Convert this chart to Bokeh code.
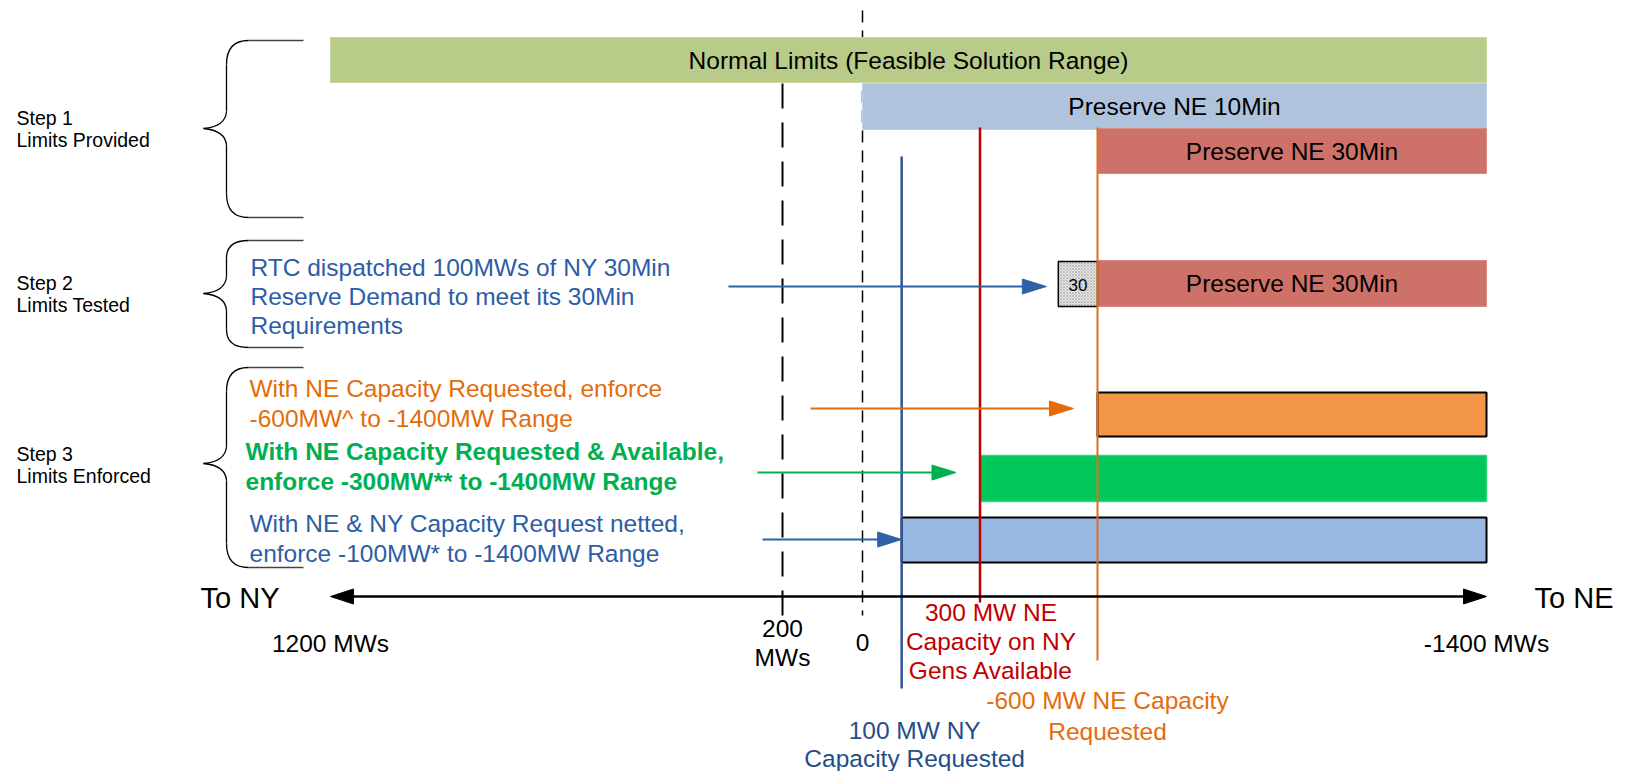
import numpy as np
from bokeh.plotting import figure
from bokeh.models import Range1d, ColumnDataSource
from bokeh.core.properties import value
from bokeh.embed import file_html
from bokeh.resources import INLINE

# ------------------------------------------------------------------ data
# schematic MW axis (the diagram is not drawn to scale)
axis_knots_mw = [1200, 200, 0, -600, -1400]
tick_values_mw = [1200, 200, 0, -1400]
tick_labels = ["1200 MWs", "200\nMWs", "0", "-1400 MWs"]
axis_end_labels = ["To NY", "To NE"]

step_names = ["Step 1", "Step 2", "Step 3"]
step_descs = ["Limits Provided", "Limits Tested", "Limits Enforced"]

range_labels = ["Normal Limits (Feasible Solution Range)", "Preserve NE 10Min",
                "Preserve NE 30Min", "Preserve NE 30Min", "", "", ""]
range_from_mw = [1200, 0, -600, -600, -600, -300, -100]
range_to_mw = [-1400, -1400, -1400, -1400, -1400, -1400, -1400]

ny30_label = "30"
ny30_from_mw = -500
ny30_to_mw = -600

marker_mw = [-100, -300, -600]
marker_texts = ["100 MW NY\nCapacity Requested",
                "300 MW NE\nCapacity on NY\nGens Available",
                "-600 MW NE Capacity\nRequested"]

step2_note = "RTC dispatched 100MWs of NY 30Min\nReserve Demand to meet its 30Min\nRequirements"
step3_notes = ["With NE Capacity Requested, enforce\n-600MW^ to -1400MW Range",
               "With NE Capacity Requested & Available,\nenforce -300MW** to -1400MW Range",
               "With NE & NY Capacity Request netted,\nenforce -100MW* to -1400MW Range"]
step3_targets_mw = [-600, -300, -100]

# ------------------------------------------------------------------ layout / style
W, H = 1630, 771
FONT = "Liberation Sans"
knot_px = [330, 782, 862, 1097, 1486]


def sx(mw):
    mw = np.asarray(mw, dtype=float)
    return np.interp(-mw, -np.array(axis_knots_mw, dtype=float), np.array(knot_px, dtype=float))


p = figure(width=W, height=H, x_range=Range1d(0, W), y_range=Range1d(H, 0),
           x_axis_type=None, y_axis_type=None, output_backend="svg",
           toolbar_location=None, min_border=0, outline_line_color=None,
           background_fill_color="white", border_fill_color="white")
p.grid.visible = False


def txt(xs, ys, texts, color, size, align="left", bold=False, baseline="middle"):
    src = ColumnDataSource(dict(x=list(xs), y=list(ys), t=list(texts)))
    p.text("x", "y", text="t", source=src, text_color=color, text_font=value(FONT),
           text_font_size=value(size), text_align=align, text_baseline=baseline,
           text_font_style="bold" if bold else "normal")


def multiline(x, y0, text, dy, color, size, align="left", bold=False):
    lines = text.split("\n")
    txt([x] * len(lines), [y0 + i * dy for i in range(len(lines))], lines, color, size, align, bold)


def arrow(x0, x1, y, color, lw=2, head_len=24, head_w=15):
    p.segment(x0=[x0], y0=[y], x1=[x1 - head_len * 0.6], y1=[y], line_color=color, line_width=lw)
    p.patch([x1, x1 - head_len, x1 - head_len], [y, y - head_w / 2, y + head_w / 2],
            fill_color=color, line_color=color, line_width=1)


# dashed reference lines (behind bars)
p.segment(x0=sx([200]), y0=[83], x1=sx([200]), y1=[615], line_color="black",
          line_width=2, line_dash="25 14")
p.segment(x0=sx([0]), y0=[10], x1=sx([0]), y1=[615], line_color="black",
          line_width=1.5, line_dash="12 8")

# range bars
row_top = [37, 83, 128, 260, 392, 455, 517]
row_bot = [82, 129, 173, 306, 436, 501, 562]
fills = ["#B8CB89", "#B0C3DD", "#CE7169", "#CE7169", "#F39647", "#00C85A", "#98B9E2"]
edges = ["#C8D8A0", "#C0D0E6", "#D88A84", "#D88A84", "black", "#35D27F", "black"]
edge_w = [1, 1, 1, 1, 2, 1.5, 2]
bars = ColumnDataSource(dict(left=sx(range_from_mw), right=sx(range_to_mw),
                             top=row_top, bottom=row_bot, fill=fills, edge=edges, lw=edge_w))
p.quad(left="left", right="right", top="top", bottom="bottom", source=bars,
       fill_color="fill", line_color="edge", line_width="lw")

# NY 30 min box (step 2)
p.quad(left=sx([ny30_from_mw]), right=sx([ny30_to_mw]), top=[261], bottom=[306],
       fill_color="#E6E6E6", line_color="black", line_width=1.5,
       hatch_pattern="diagonal_cross", hatch_color="#9A9A9A", hatch_scale=3, hatch_weight=0.5)
txt([float(sx(ny30_from_mw) + sx(ny30_to_mw)) / 2], [284], [ny30_label], "black", "17px", "center")

# bar labels
lab_idx = [i for i, s in enumerate(range_labels) if s]
txt([float(sx(range_from_mw[i]) + sx(range_to_mw[i])) / 2 for i in lab_idx],
    [(row_top[i] + row_bot[i]) / 2 for i in lab_idx],
    [range_labels[i] for i in lab_idx], "black", "24.5px", "center")

# coloured marker lines
marker_colors = ["#2E5597", "#C00000", "#E07020"]
marker_y0 = [156, 127, 127]
marker_y1 = [688, 602, 660]
marker_lw = [2.5, 2.5, 2]
for mw, c, a, b, w in zip(marker_mw, marker_colors, marker_y0, marker_y1, marker_lw):
    p.segment(x0=sx([mw]), y0=[a], x1=sx([mw]), y1=[b], line_color=c, line_width=w)

# marker labels
mtext_colors = ["#1F4E8A", "#C00000", "#E46C0A"]
mtext_dx = [13, 11, 10]
mtext_y0 = [730, 612, 700]
mtext_dy = [28, 29, 31]
for mw, t, c, dx, y0, dy in zip(marker_mw, marker_texts, mtext_colors, mtext_dx, mtext_y0, mtext_dy):
    multiline(float(sx(mw)) + dx, y0, t, dy, c, "24.5px", "center")

# horizontal axis with arrowheads
AX_Y = 596
xl, xr = float(sx(axis_knots_mw[0])), float(sx(axis_knots_mw[-1]))
p.segment(x0=[xl + 15], y0=[AX_Y], x1=[xr - 15], y1=[AX_Y], line_color="black", line_width=2.5)
p.patch([xl, xl + 23, xl + 23], [AX_Y, AX_Y - 7.5, AX_Y + 7.5], fill_color="black", line_color="black")
p.patch([xr, xr - 23, xr - 23], [AX_Y, AX_Y - 7.5, AX_Y + 7.5], fill_color="black", line_color="black")
txt([200], [AX_Y + 1], [axis_end_labels[0]], "black", "29px", "left")
txt([1534], [AX_Y + 1], [axis_end_labels[1]], "black", "29px", "left")

# tick labels
tick_y = [643, 628, 642, 643]
for mw, lab, y in zip(tick_values_mw, tick_labels, tick_y):
    multiline(float(sx(mw)), y, lab, 29, "black", "24.5px", "center")

# step labels and braces
step_y = [117, 282, 453]
for name, desc, y in zip(step_names, step_descs, step_y):
    txt([16, 16], [y, y + 22.5], [name, desc], "black", "19.5px", "left")

brace_top = [40, 240, 367]
brace_tip = [128, 293, 463]
brace_bot = [217, 347, 567]
X_ARM, X_JOIN, X_SP, X_TIP = 303, 248, 226, 203
for t, m, b in zip(brace_top, brace_tip, brace_bot):
    r1 = min(24, (m - t) / 3)
    r1b = min(24, (b - m) / 3)
    r2 = 17
    p.segment(x0=[X_ARM, X_ARM], y0=[t, b], x1=[X_JOIN, X_JOIN], y1=[t, b],
              line_color="#444444", line_width=1.5)
    p.quadratic(x0=[X_JOIN, X_JOIN], y0=[t, b], x1=[X_SP, X_SP], y1=[t + r1, b - r1b],
                cx=[X_SP, X_SP], cy=[t, b], line_color="black", line_width=1.3)
    p.segment(x0=[X_SP, X_SP], y0=[t + r1, m + r2], x1=[X_SP, X_SP], y1=[m - r2, b - r1b],
              line_color="black", line_width=1.3)
    p.quadratic(x0=[X_SP, X_SP], y0=[m - r2, m + r2], x1=[X_TIP, X_TIP], y1=[m, m],
                cx=[X_SP - 1, X_SP - 1], cy=[m - 2, m + 2], line_color="black", line_width=1.3)

# step 2 note and arrow
multiline(250, 267, step2_note, 29, "#2C5DA6", "24.5px")
arrow(728, float(sx(ny30_from_mw)) - 12, 286, "#2E62A8")

# step 3 notes and arrows
note_x = [249, 245, 249]
note_y = [388, 451, 523]
note_c = ["#E46C0A", "#00B050", "#2C5DA6"]
note_bold = [False, True, False]
arr_x0 = [810, 757, 762]
arr_y = [408, 472, 539]
arr_gap = [24, 24, 0]
arr_c = ["#E36C09", "#00B050", "#2E62A8"]
for note, x, y, c, bd, ax0, ay, gap, ac, tgt in zip(step3_notes, note_x, note_y, note_c, note_bold,
                                                    arr_x0, arr_y, arr_gap, arr_c, step3_targets_mw):
    multiline(x, y, note, 29.5, c, "24.5px", "left", bd)
    arrow(ax0, float(sx(tgt)) - gap, ay, ac)

open("out.html", "w").write(file_html(p, INLINE))
